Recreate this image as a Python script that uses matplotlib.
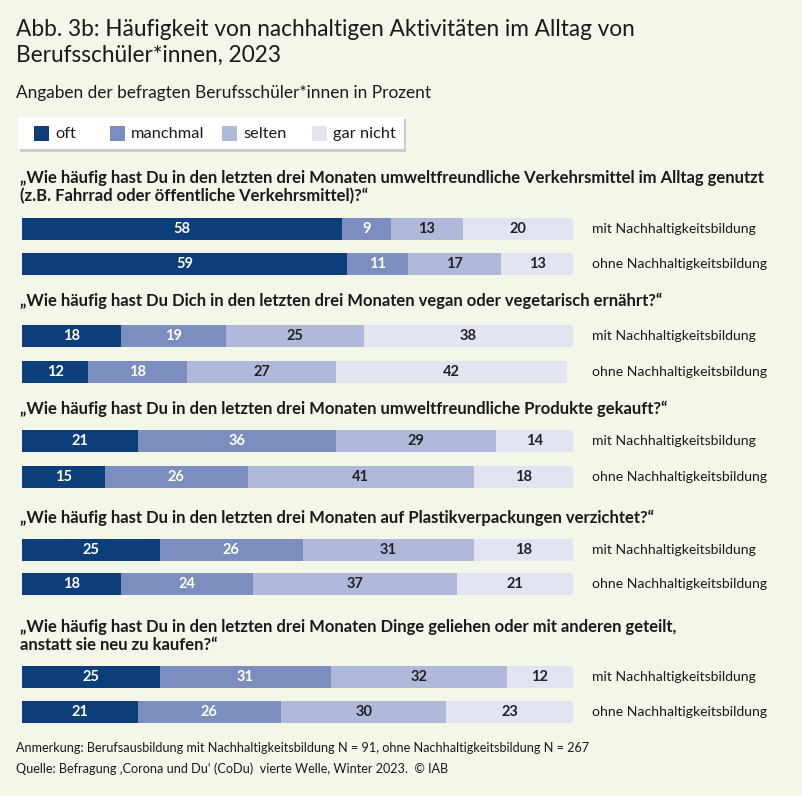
import numpy as np
import matplotlib
matplotlib.use('Agg')
import matplotlib.pyplot as plt
from matplotlib import font_manager
from matplotlib.patches import Rectangle

# data (Prozent)
categories = ['oft', 'manchmal', 'selten', 'gar nicht']
groups = ['mit Nachhaltigkeitsbildung', 'ohne Nachhaltigkeitsbildung']
questions = [
    '\u201eWie h\u00e4ufig hast Du in den letzten drei Monaten umweltfreundliche Verkehrsmittel im Alltag genutzt\n(z.B. Fahrrad oder \u00f6ffentliche Verkehrsmittel)?\u201c',
    '\u201eWie h\u00e4ufig hast Du Dich in den letzten drei Monaten vegan oder vegetarisch ern\u00e4hrt?\u201c',
    '\u201eWie h\u00e4ufig hast Du in den letzten drei Monaten umweltfreundliche Produkte gekauft?\u201c',
    '\u201eWie h\u00e4ufig hast Du in den letzten drei Monaten auf Plastikverpackungen verzichtet?\u201c',
    '\u201eWie h\u00e4ufig hast Du in den letzten drei Monaten Dinge geliehen oder mit anderen geteilt,\nanstatt sie neu zu kaufen?\u201c',
]
oft = [58, 59, 18, 12, 21, 15, 25, 18, 25, 21]
manchmal = [9, 11, 19, 18, 36, 26, 26, 24, 31, 26]
selten = [13, 17, 25, 27, 29, 41, 31, 37, 32, 30]
gar_nicht = [20, 13, 38, 42, 14, 18, 18, 21, 12, 23]

colors = ['#0c3f7a', '#7b8ebf', '#b0b9da', '#e2e5f1']
text_colors = ['white', 'white', '#222222', '#222222']
bg = '#f3f7e9'

avail = {f.name for f in font_manager.fontManager.ttflist}
main_font = 'Lato' if 'Lato' in avail else 'DejaVu Sans'
narrow_font = 'Liberation Sans Narrow' if 'Liberation Sans Narrow' in avail else main_font

W, H = 802, 796
fig = plt.figure(figsize=(W / 100, H / 100), dpi=100, facecolor=bg)

def fx(px):
    return px / W

def fy(py):
    return 1 - py / H

fig.text(fx(16), fy(30), 'Abb. 3b: H\u00e4ufigkeit von nachhaltigen Aktivit\u00e4ten im Alltag von',
         fontsize=16.3, family=main_font, color='#1a1a1a', va='center')
fig.text(fx(16), fy(55), 'Berufssch\u00fcler*innen, 2023',
         fontsize=16.3, family=main_font, color='#1a1a1a', va='center')
fig.text(fx(16), fy(93), 'Angaben der befragten Berufssch\u00fcler*innen in Prozent',
         fontsize=12.4, family=main_font, color='#1a1a1a', va='center')

# legend box
fig.patches.append(Rectangle((fx(20), fy(152)), fx(386), 33 / H, transform=fig.transFigure,
                             facecolor='#c8cbcf', edgecolor='none', zorder=0))
fig.patches.append(Rectangle((fx(18), fy(149)), fx(386), 32 / H, transform=fig.transFigure,
                             facecolor='white', edgecolor='none', zorder=1))
leg_x = [34, 110, 222, 312]
for cat, col, lx in zip(categories, colors, leg_x):
    fig.patches.append(Rectangle((fx(lx), fy(141)), fx(15), 15 / H, transform=fig.transFigure,
                                 facecolor=col, edgecolor='none', zorder=2))
    fig.text(fx(lx + 21), fy(134), cat, fontsize=11.8, family=main_font,
             color='#1a1a1a', va='center', zorder=3)

# bar axis: x in percent, y in pixel rows
ax = fig.add_axes([fx(22), 0, fx(573) - fx(22), 1])
ax.set_xlim(0, 100)
ax.set_ylim(H, 0)
ax.axis('off')
ax.patch.set_alpha(0)

bar_y = [229, 264, 336, 372, 441, 477, 550, 584, 677, 712]
q_y = [187, 301, 409, 518, 636]

for q, qy in zip(questions, q_y):
    fig.text(fx(20), fy(qy), q, fontsize=11.95, family=main_font, weight='bold',
             color='#1a1a1a', va='center', linespacing=1.2)

series = [oft, manchmal, selten, gar_nicht]
for i, y in enumerate(bar_y):
    left = 0
    for s, col, tc in zip(series, colors, text_colors):
        v = s[i]
        ax.barh(y, v, left=left, height=22, color=col, edgecolor='none')
        ax.text(left + v / 2, y, str(v), ha='center', va='center', fontsize=10.5,
                weight='bold', family=narrow_font, color=tc)
        left += v
    ax.text(103.5, y, groups[i % 2], ha='left', va='center', fontsize=10.1,
            family=narrow_font, color='#1a1a1a', clip_on=False)

fig.text(fx(16), fy(748), 'Anmerkung: Berufsausbildung mit Nachhaltigkeitsbildung N = 91, ohne Nachhaltigkeitsbildung N = 267',
         fontsize=9.1, family=narrow_font, color='#1a1a1a', va='center')
fig.text(fx(16), fy(769), 'Quelle: Befragung \u201aCorona und Du\u2018 (CoDu)  vierte Welle, Winter 2023.  \u00a9 IAB',
         fontsize=9.1, family=narrow_font, color='#1a1a1a', va='center')

fig.savefig('out.png', dpi=100, facecolor=bg)
